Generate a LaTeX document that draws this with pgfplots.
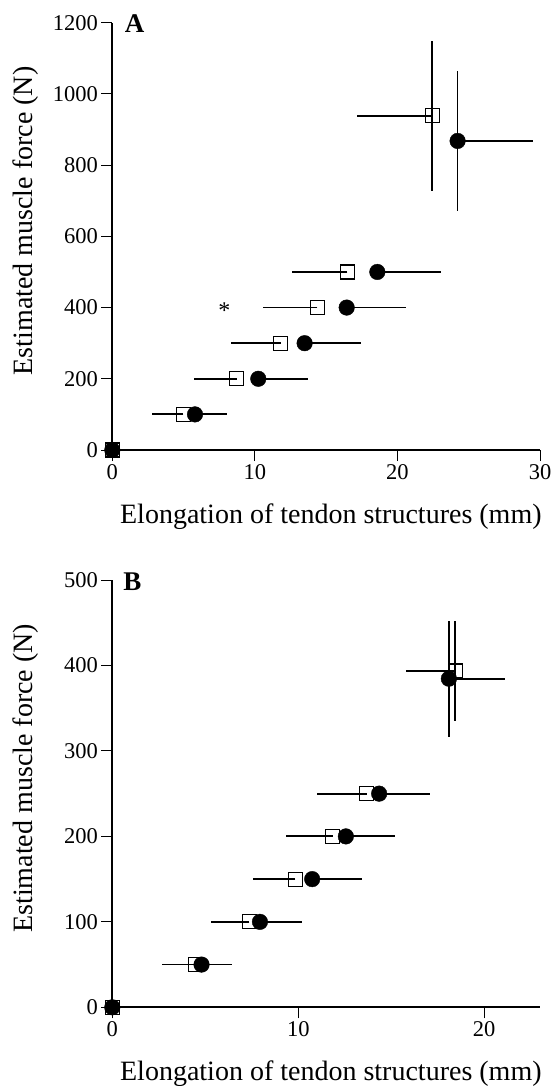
\documentclass[border=0pt]{standalone}
\usepackage{fontspec}
\setmainfont{Liberation Serif}
\usepackage{pgfplots}
\usepackage{pgfplotstable}
\pgfplotsset{compat=1.18}

\pgfplotstableread{
x y ex ey
0 0 0 0
4.98 100 2.17 0
8.72 200 2.97 0
11.81 300 3.51 0
14.38 400 3.84 0
16.48 500 3.90 0
22.44 939 5.26 211
}\topsq
\pgfplotstableread{
x y ex ey
0 0 0 0
5.80 100 2.27 0
10.24 200 3.50 0
13.49 300 3.93 0
16.44 400 4.16 0
18.59 500 4.50 0
24.22 868 5.30 196
}\topci
\pgfplotstableread{
x y ex ey
0 0 0 0
4.45 50 1.76 0
7.37 100 2.06 0
9.84 150 2.26 0
11.85 200 2.51 0
13.68 250 2.66 0
18.44 393.5 2.67 59
}\botsq
\pgfplotstableread{
x y ex ey
0 0 0 0
4.80 50 1.62 0
7.94 100 2.26 0
10.75 150 2.66 0
12.56 200 2.64 0
14.35 250 2.73 0
18.10 384.5 3.00 68
}\botci

\pgfplotsset{
  common/.style={
    scale only axis, width=427.7bp, height=427.3bp,
    axis x line*=bottom, axis y line*=left,
    xmin=0, ymin=0,
    clip=false,
    axis line style={line width=2bp, -},
    tick style={line width=1bp, black},
    tick align=outside, major tick length=11bp,
    tick label style={font=\fontsize{22.5bp}{25bp}\selectfont},
    /pgf/number format/assume math mode=true,
    /pgf/number format/set thousands separator={},
    xlabel={Elongation of tendon structures (mm)},
    ylabel={Estimated muscle force (N)},
    every axis x label/.style={at={(axis description cs:0.511,0)}, anchor=base, yshift=-73bp, font=\fontsize{28bp}{32bp}\selectfont},
    every axis y label/.style={at={(axis description cs:0,0.536)}, xshift=-87bp, rotate=90, anchor=center, font=\fontsize{28bp}{32bp}\selectfont},
  },
  sq/.style={only marks, black, mark=square, mark size=7bp, mark options={line width=1.1bp, black},
    error bars/.cd, x dir=minus, x explicit, y dir=both, y explicit, error mark=none,
    error bar style={line width=1.8bp, black}},
  ci/.style={only marks, black, mark=*, mark size=7.8bp, mark options={black, fill=black},
    error bars/.cd, x dir=plus, x explicit, y dir=both, y explicit, error mark=none,
    error bar style={line width=1.8bp, black}},
}

\begin{document}
\begin{tikzpicture}
\path[use as bounding box] (0bp,0bp) rectangle (554bp,-1086bp);
\begin{axis}[common, at={(112.3bp,-450bp)}, anchor=origin,
  xmax=30, ymax=1200, xtick={0,10,20,30}, ytick={0,200,...,1200}]
\addplot[sq] table[x=x, y=y, x error=ex, y error=ey]{\topsq};
\addplot[ci] table[x=x, y=y, x error=ex, y error=ey]{\topci};
\node[font=\fontsize{24bp}{26bp}\selectfont, anchor=center] at (axis cs:7.86,392) {*};
\node[font=\fontsize{27bp}{30bp}\selectfont\bfseries, anchor=base west, inner sep=0pt] at (rel axis cs:0,1) [xshift=12.5bp, yshift=-9.5bp] {A};
\end{axis}
\begin{axis}[common, at={(112.3bp,-1007.3bp)}, anchor=origin,
  xmax=23, ymax=500, xtick={0,10,20}, ytick={0,100,...,500}]
\addplot[sq] table[x=x, y=y, x error=ex, y error=ey]{\botsq};
\addplot[ci] table[x=x, y=y, x error=ex, y error=ey]{\botci};
\node[font=\fontsize{27bp}{30bp}\selectfont\bfseries, anchor=base west, inner sep=0pt] at (rel axis cs:0,1) [xshift=11bp, yshift=-10bp] {B};
\end{axis}
\end{tikzpicture}
\end{document}
